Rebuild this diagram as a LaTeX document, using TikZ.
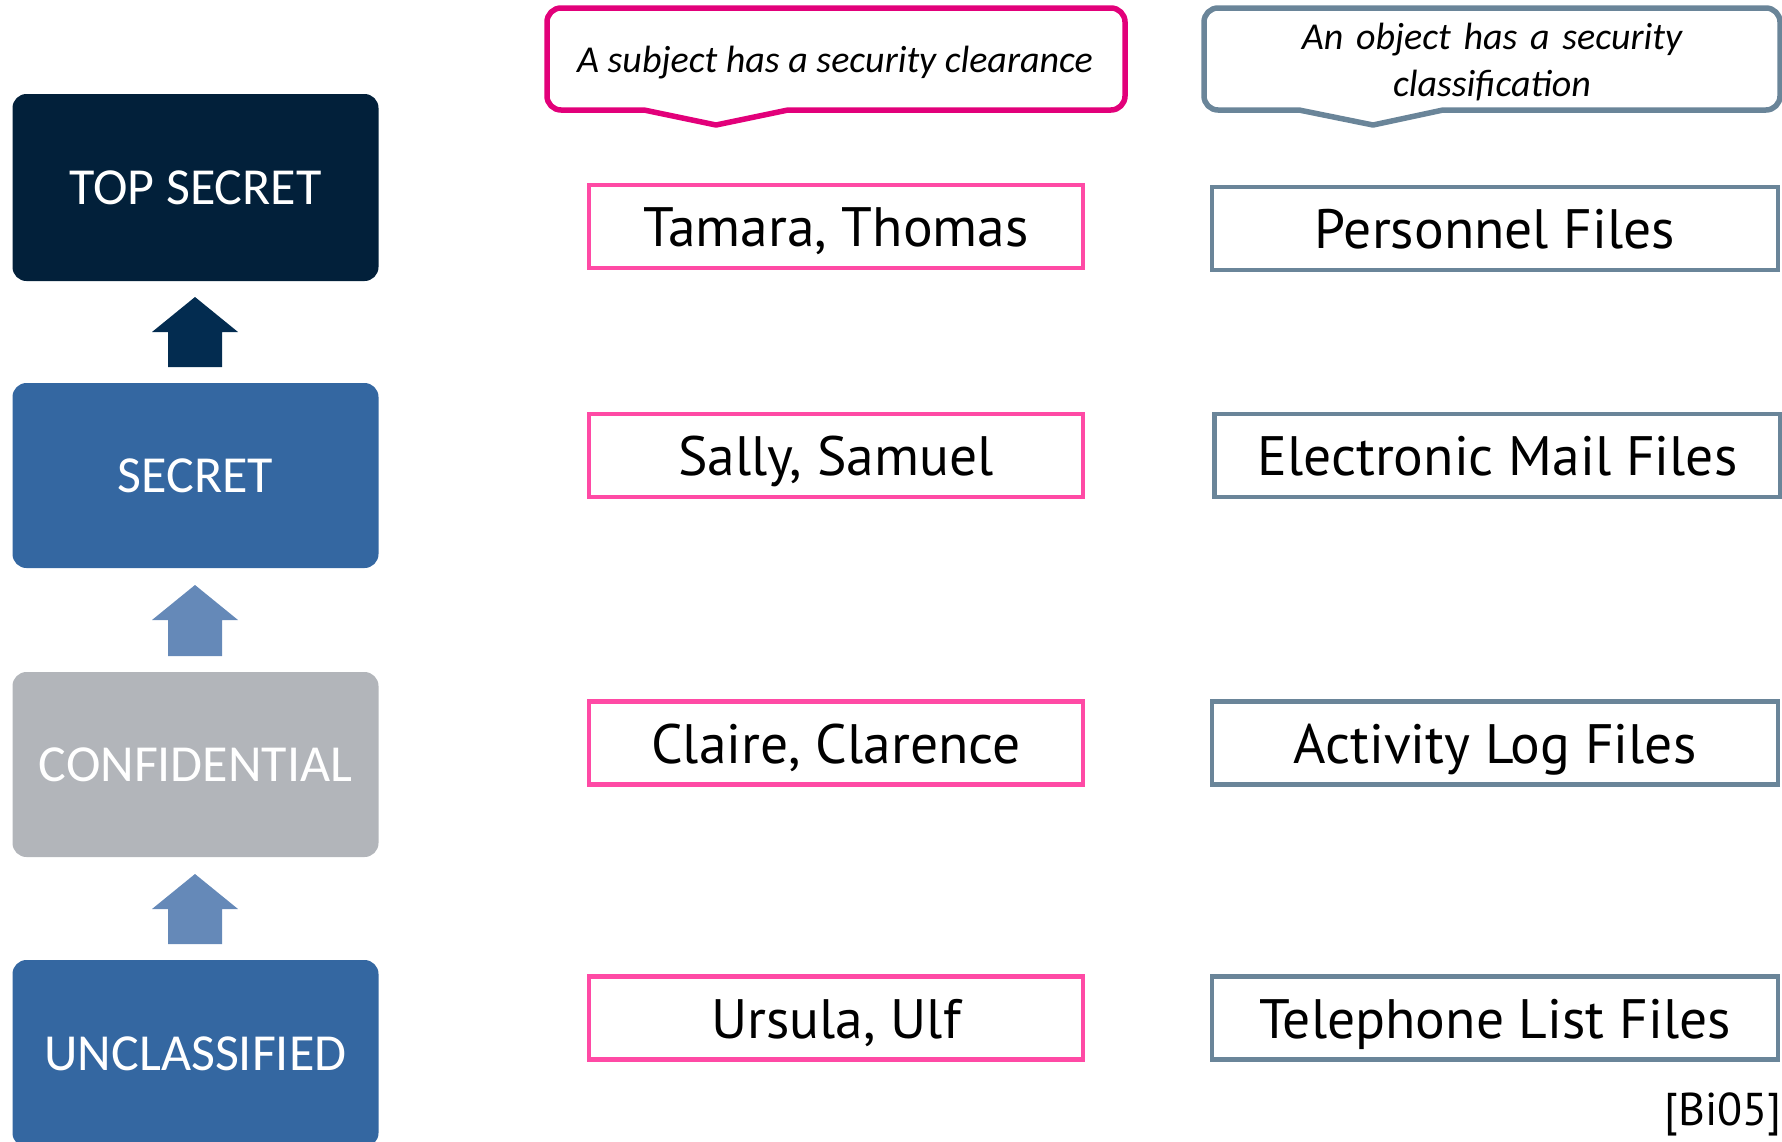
\documentclass[tikz,border=0pt]{standalone}
\usepackage{fontspec}
\setmainfont{Carlito}
\newfontfamily\labelfont{PT Sans}
\begin{document}
\begin{tikzpicture}[x=1pt,y=-1pt,
  levelbox/.style={rounded corners=14pt,minimum width=366pt,text=white,
    font=\fontsize{52}{60}\selectfont},
  namebox/.style={line width=4.8pt,minimum height=83pt,text height=44pt,text depth=4pt,
    font=\labelfont\fontsize{55.5}{62}\selectfont},
  subjbox/.style={namebox,draw=subjpink,minimum width=494pt},
  objbox/.style={namebox,draw=objgrey,minimum width=566pt},
  note/.style={font=\itshape\fontsize{38}{48}\selectfont,align=center},
  callout/.style={line width=5.5pt,line join=round,fill=white}]
\definecolor{topnavy}{HTML}{02203A}
\definecolor{navyarrow}{HTML}{032C50}
\definecolor{secblue}{HTML}{3467A1}
\definecolor{lightarrow}{HTML}{6589B8}
\definecolor{confgrey}{HTML}{B2B5BA}
\definecolor{subjpink}{HTML}{FF4AA5}
\definecolor{calloutpink}{HTML}{E2007A}
\definecolor{objgrey}{HTML}{6A8599}
\useasboundingbox (0,0) rectangle (1782,1141);

% classification levels
\node[levelbox,fill=topnavy,minimum height=187pt] (ts) at (195.5,187.5) {TOP SECRET};
\node[levelbox,fill=secblue,minimum height=185pt] (sec) at (195.5,475.5) {SECRET};
\node[levelbox,fill=confgrey,minimum height=185pt] (conf) at (195.5,764.5) {CONFIDENTIAL};
\node[levelbox,fill=secblue,minimum height=187pt] (uncl) at (195.5,1053.5) {UNCLASSIFIED};

% block arrows between levels
\fill[navyarrow] (195,297) -- (238,332) -- (222,332) -- (222,367) -- (168,367) -- (168,332) -- (152,332) -- cycle;
\fill[lightarrow] (195,585) -- (238,620) -- (222,620) -- (222,656) -- (168,656) -- (168,620) -- (152,620) -- cycle;
\fill[lightarrow] (195,874) -- (238,909) -- (222,909) -- (222,944) -- (168,944) -- (168,909) -- (152,909) -- cycle;

% callouts
\draw[callout,draw=calloutpink] (716,125) -- (788,110) [rounded corners=14pt] -- (1125,110) -- (1125,8) -- (547,8) -- (547,110) [sharp corners] -- (644,110) -- cycle;
\node[note] (subjnote) at (835,63) {A subject has a security clearance};
\draw[callout,draw=objgrey] (1373,125) -- (1443,110) [rounded corners=14pt] -- (1780,110) -- (1780,8) -- (1204,8) -- (1204,110) [sharp corners] -- (1299,110) -- cycle;
\node[note,text width=560pt] (objnote) at (1492,62) {An object has a security\\[-1pt]classification};

% subjects
\node[subjbox] (tamara) at (836,226.5) {Tamara, Thomas};
\node[subjbox] (sally) at (836,455.5) {Sally, Samuel};
\node[subjbox] (claire) at (836,743) {Claire, Clarence};
\node[subjbox] (ursula) at (836,1018) {Ursula, Ulf};

% objects
\node[objbox] (personnel) at (1495,228.5) {Personnel Files};
\node[objbox] (email) at (1497.5,455.5) {Electronic Mail Files};
\node[objbox] (activity) at (1495,743) {Activity Log Files};
\node[objbox] (phone) at (1495,1018) {Telephone List Files};

\node[font=\labelfont\fontsize{46}{52}\selectfont,anchor=east,inner sep=0pt] (ref) at (1782,1114) {[Bi05]};
\end{tikzpicture}
\end{document}
